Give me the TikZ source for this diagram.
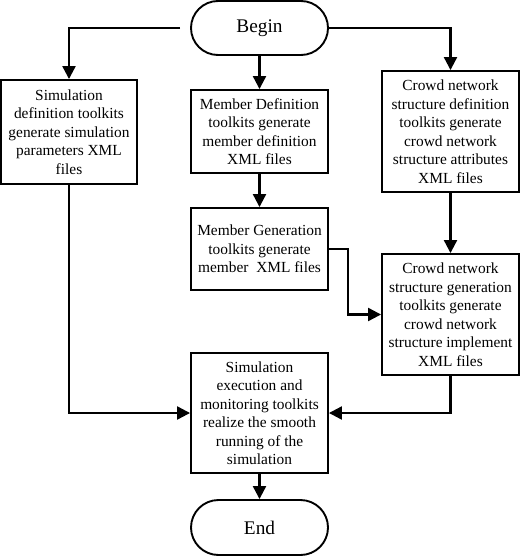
\documentclass[tikz,border=0pt]{standalone}
\usepackage{fontspec}
\setmainfont{Liberation Serif}
\usetikzlibrary{arrows.meta,shapes.misc}
\begin{document}
\begin{tikzpicture}[x=1pt,y=-1pt,
  box/.style={draw,line width=1.9pt,minimum width=137pt,align=center,inner sep=0pt,
    font=\fontsize{15.4}{18.5}\selectfont},
  term/.style={draw,line width=1.9pt,rounded rectangle,minimum width=137pt,minimum height=54pt,
    inner sep=0pt,font=\fontsize{19.3}{22}\selectfont},
  conn/.style={line width=2.2pt,-{Triangle[length=13pt,width=13pt]}}]
\useasboundingbox (0,0) rectangle (520,556);
\node[term] (begin) at (259.5,28) {Begin};
\node[box,minimum width=136pt,minimum height=104pt] (b1) at (69,132)
  {Simulation\\definition toolkits\\generate simulation\\parameters XML\\files};
\node[box,minimum height=83pt] (b2) at (259.5,131.5)
  {Member Definition\\toolkits generate\\member definition\\XML files};
\node[box,minimum height=121pt] (b3) at (450.5,131.5)
  {Crowd network\\structure definition\\toolkits generate\\crowd network\\structure attributes\\XML files};
\node[box,minimum height=82pt] (b4) at (259.5,249)
  {Member Generation\\toolkits generate\\member\hspace{0.5em}XML files};
\node[box,minimum height=121pt] (b5) at (450.5,314.5)
  {Crowd network\\structure generation\\toolkits generate\\crowd network\\structure implement\\XML files};
\node[box,minimum height=120pt] (b6) at (259.5,413)
  {Simulation\\execution and\\monitoring toolkits\\realize the smooth\\running of the\\simulation};
\node[term,minimum height=55pt] (end) at (259.5,527.5) {End};
\coordinate (lstart) at (180,28);
\coordinate (bend4) at (348,249);
\draw[conn] (lstart) -| (b1.north);
\draw[conn] (begin.east) -| (b3.north);
\draw[conn] (begin.south) -- (b2.north);
\draw[conn] (b2.south) -- (b4.north);
\draw[conn] (b3.south) -- (b5.north);
\draw[conn] (b4.east) -- (bend4) |- (b5.west);
\draw[conn] (b1.south) |- (b6.west);
\draw[conn] (b5.south) |- (b6.east);
\draw[conn] (b6.south) -- (end.north);
\end{tikzpicture}
\end{document}
